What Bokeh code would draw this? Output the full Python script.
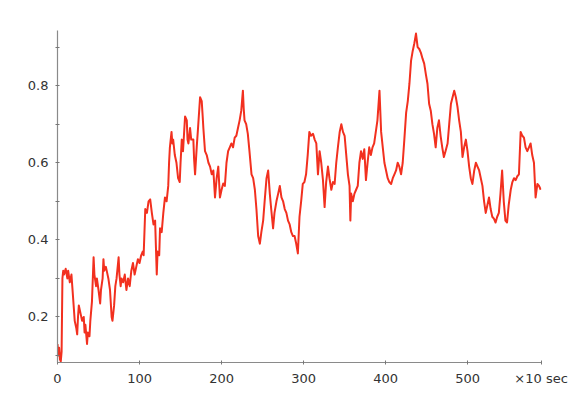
from bokeh.plotting import figure
from bokeh.models import Range1d, FixedTicker
from bokeh.embed import file_html
from bokeh.resources import INLINE

# time in units of 10 sec, value
t = [0, 1, 2, 3, 4, 5, 6, 7, 8, 10, 12, 13, 15, 17, 18, 20, 21, 23, 24, 25, 26, 28, 30, 32, 33, 34, 36, 37, 39, 40,
     42, 44, 45, 47, 48, 50, 52, 53, 55, 56, 57, 59, 61, 62, 64, 66, 67, 69, 70.5, 72, 74.5, 75.5, 77, 78, 80, 82, 84, 86, 88, 90,
     92, 94, 96, 98, 100, 102, 104, 105, 107, 109, 111, 113, 115, 117, 119, 120, 121, 122, 124, 125, 127, 129, 131, 133,
     135, 136, 137, 139, 140, 141, 143, 145, 147, 149, 150, 151.5, 153, 155.5, 157.6, 158.5, 159.6, 161.6, 163, 165.6,
     166.5, 167.7, 169.7, 171, 173.8, 175.8, 177, 177.8, 179.8, 181.9, 184, 186, 188, 190, 192, 194, 196, 197, 198, 200,
     202, 204, 206, 208, 210, 212, 214, 216, 218, 220, 222, 224, 226, 227, 228, 230, 232, 234, 236.5, 238.5, 240.6, 242.5,
     244.6, 246.7, 248.5, 250.7, 252.5, 254.8, 256.8, 258.8, 260.5, 262.8, 264.5, 266.9, 269, 271, 273, 275, 277, 279,
     281, 283, 285, 287, 289, 291, 293, 295, 297, 299, 301, 303, 305, 307, 309, 311.5, 313.5, 315.5, 317.5, 319.5, 321.5,
     323.6, 325.6, 327.5, 329.7, 331.5, 333.8, 335.8, 337.8, 339.8, 341.8, 344, 346, 348, 350, 352, 354, 356, 357, 358,
     360, 362, 364, 366, 368, 370, 372, 374, 376, 378, 380, 382, 384, 386, 388, 390, 392.5, 394.5, 396.5, 398.5, 400.5,
     402.5, 404.5, 406.7, 408.7, 410.7, 412.7, 414.7, 416.7, 418.8, 420.8, 422.8, 425, 427, 429, 431, 433, 435, 437, 439,
     441, 443, 445, 447, 449, 451, 453, 455, 457, 459, 461, 463, 465, 467, 469, 471, 473, 475.5, 477.5, 479.6, 481.6,
     483.6, 485.6, 487.6, 489.6, 491.7, 493.7, 495.7, 497.8, 499.8, 501.8, 503.8, 505.8, 508, 510, 512, 514, 516, 518,
     520, 522, 524, 526, 528, 530, 532, 534, 536, 538, 540, 542, 544, 546, 548, 550, 552.5, 554.5, 556.5, 558.5, 560.5,
     562.5, 564.6, 566.6, 568.6, 570.6, 572.7, 574.7, 576.7, 578.7, 580.8, 582.8, 585, 587, 589]

v = [0.13, 0.10, 0.12, 0.09, 0.085, 0.11, 0.30, 0.32, 0.31, 0.325, 0.30, 0.32, 0.29, 0.31, 0.28, 0.22, 0.19, 0.17, 0.155, 0.20,
     0.23, 0.21, 0.19, 0.20, 0.16, 0.18, 0.13, 0.16, 0.15, 0.19, 0.24, 0.355, 0.31, 0.28, 0.30, 0.27, 0.235, 0.27, 0.30, 0.35,
     0.32, 0.33, 0.31, 0.30, 0.27, 0.20, 0.19, 0.23, 0.28, 0.30, 0.355, 0.31, 0.28, 0.30, 0.29, 0.31, 0.27, 0.30, 0.28, 0.32,
     0.34, 0.31, 0.33, 0.35, 0.34, 0.36, 0.37, 0.36, 0.48, 0.47, 0.50, 0.505, 0.47, 0.44, 0.45, 0.38, 0.31, 0.37, 0.36, 0.43,
     0.42, 0.47, 0.51, 0.50, 0.54, 0.60, 0.64, 0.68, 0.65, 0.66, 0.62, 0.60, 0.56, 0.55, 0.60, 0.66, 0.63, 0.72, 0.71, 0.66,
     0.65, 0.69, 0.66, 0.66, 0.61, 0.57, 0.64, 0.68, 0.77, 0.76, 0.72, 0.69, 0.63, 0.62, 0.60, 0.59, 0.57, 0.58, 0.51, 0.56,
     0.59, 0.55, 0.51, 0.53, 0.546, 0.54, 0.60, 0.63, 0.64, 0.65, 0.64, 0.665, 0.67, 0.69, 0.71, 0.735, 0.787, 0.74, 0.71,
     0.70, 0.675, 0.63, 0.57, 0.56, 0.53, 0.48, 0.41, 0.39, 0.42, 0.45, 0.50, 0.56, 0.58, 0.52, 0.48, 0.43, 0.47, 0.50, 0.52,
     0.54, 0.51, 0.50, 0.48, 0.47, 0.45, 0.44, 0.42, 0.41, 0.41, 0.39, 0.365, 0.46, 0.50, 0.545, 0.55, 0.57, 0.62, 0.68, 0.67,
     0.675, 0.66, 0.65, 0.57, 0.63, 0.60, 0.555, 0.485, 0.55, 0.59, 0.56, 0.53, 0.55, 0.545, 0.60, 0.64, 0.68, 0.70, 0.68,
     0.67, 0.62, 0.57, 0.54, 0.45, 0.52, 0.50, 0.52, 0.53, 0.54, 0.60, 0.63, 0.61, 0.635, 0.555, 0.60, 0.64, 0.62, 0.64, 0.65,
     0.68, 0.71, 0.787, 0.68, 0.64, 0.60, 0.58, 0.56, 0.55, 0.545, 0.56, 0.57, 0.58, 0.60, 0.59, 0.57, 0.60, 0.66, 0.73, 0.76,
     0.805, 0.865, 0.89, 0.91, 0.935, 0.90, 0.895, 0.885, 0.87, 0.857, 0.83, 0.805, 0.753, 0.735, 0.70, 0.675, 0.64, 0.69,
     0.71, 0.67, 0.64, 0.615, 0.63, 0.65, 0.70, 0.753, 0.77, 0.787, 0.77, 0.745, 0.71, 0.68, 0.615, 0.64, 0.66, 0.63, 0.59,
     0.56, 0.545, 0.58, 0.60, 0.59, 0.58, 0.56, 0.54, 0.50, 0.47, 0.49, 0.51, 0.48, 0.46, 0.455, 0.445, 0.46, 0.47, 0.52,
     0.58, 0.50, 0.45, 0.445, 0.49, 0.53, 0.55, 0.56, 0.555, 0.565, 0.57, 0.68, 0.67, 0.665, 0.64, 0.63, 0.64, 0.65, 0.62,
     0.60, 0.51, 0.545, 0.54, 0.53]

x_ticks = [0, 100, 200, 300, 400, 500]
x_unit_tick = 589.5
unit_text = "\u00d710 sec"
y_ticks = [0.1, 0.2, 0.3, 0.4, 0.5, 0.6, 0.7, 0.8, 0.9]
y_labels = {0.1: "", 0.2: "0.2", 0.3: "", 0.4: "0.4", 0.5: "", 0.6: "0.6", 0.7: "", 0.8: "0.8", 0.9: ""}

p = figure(frame_width=484, frame_height=332, min_border_left=57, min_border_right=38,
           min_border_top=30, min_border_bottom=29, output_backend="svg", toolbar_location=None,
           x_range=Range1d(0, 590), y_range=Range1d(0.082, 0.943))
p.xgrid.visible = False
p.ygrid.visible = False
p.outline_line_color = None
p.background_fill_color = "white"
p.border_fill_color = "white"

p.line(t, v, line_color="#f2301f", line_width=2, line_join="round")

for ax in (p.xaxis[0], p.yaxis[0]):
    ax.axis_line_color = "#8a8a8a"
    ax.axis_line_width = 1.2
    ax.major_tick_line_color = "#777777"
    ax.major_tick_in = 2
    ax.major_tick_out = 2
    ax.minor_tick_line_color = None
    ax.major_label_text_font = "DejaVu Sans"
    ax.major_label_text_font_size = "13px"
    ax.major_label_text_color = "#333333"

p.xaxis[0].ticker = FixedTicker(ticks=x_ticks + [x_unit_tick])
p.xaxis[0].major_label_overrides = {x_unit_tick: unit_text}
p.xaxis[0].major_label_standoff = 6
p.yaxis[0].ticker = FixedTicker(ticks=y_ticks)
p.yaxis[0].major_label_overrides = {k: s for k, s in y_labels.items()}
p.yaxis[0].major_label_standoff = 7

open("out.html", "w").write(file_html(p, INLINE))
